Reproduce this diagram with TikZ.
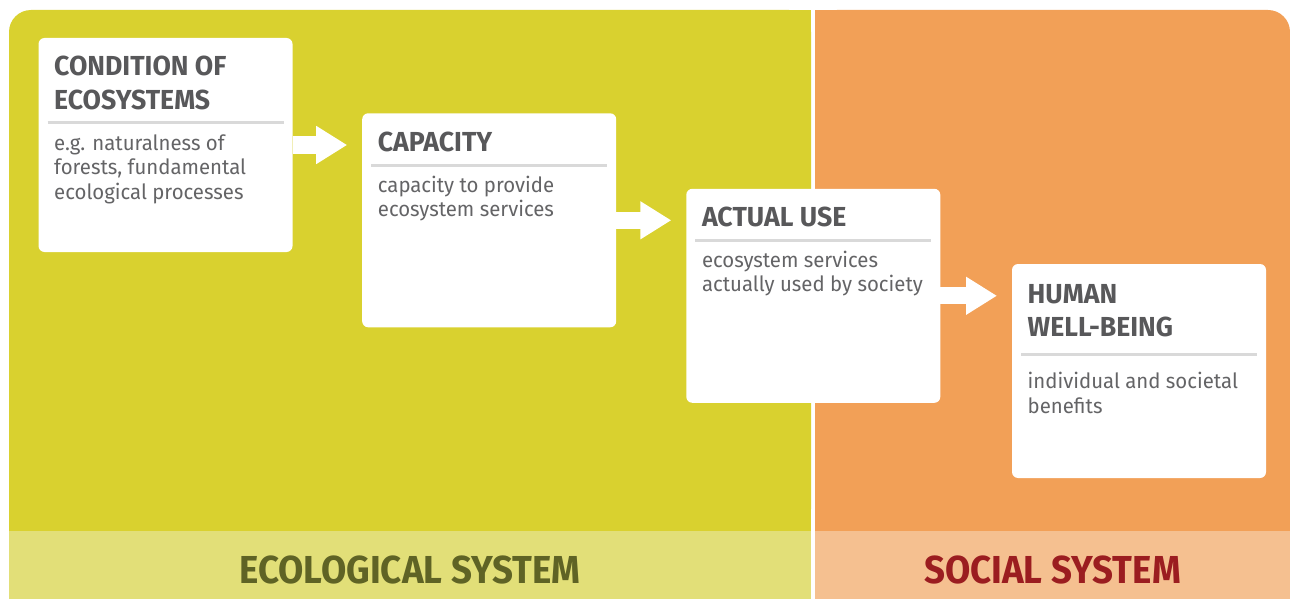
\documentclass[tikz,border=0pt]{standalone}
\usepackage{fontspec}
\setmainfont{Fira Sans}
\newfontfamily\hfont{Fira Sans}[FakeStretch=0.97]
\newfontfamily\lfont{Fira Sans}[FakeStretch=0.94]
\newfontfamily\bfont{Fira Sans}[FakeStretch=0.97]
\usetikzlibrary{arrows.meta,calc}
\definecolor{eco}{HTML}{D9D12F}
\definecolor{ecolight}{HTML}{E2DF78}
\definecolor{soc}{HTML}{F2A057}
\definecolor{soclight}{HTML}{F5C090}
\definecolor{hdrgray}{HTML}{58585A}
\definecolor{bodygray}{HTML}{646466}
\definecolor{sepgray}{HTML}{D9D9D9}
\definecolor{olive}{HTML}{5F6325}
\definecolor{darkred}{HTML}{9B1D20}
\begin{document}
\begin{tikzpicture}[x=1pt,y=-1pt,
  panel/.style={fill=white,rounded corners=6pt,minimum width=254pt,minimum height=214pt,inner sep=0pt,outer sep=0pt},
  hdr/.style={anchor=base west,inner sep=0pt,font=\hfont\bfseries\fontsize{27.5}{34}\selectfont,text=hdrgray},
  body/.style={anchor=base west,inner sep=0pt,font=\bfont\fontsize{21}{24.5}\selectfont,text=bodygray},
  sepline/.style={draw=sepgray,line width=3pt},
  flow/.style={draw=white,line width=17pt,-{Triangle[length=31pt,width=36pt]}},
  syslabel/.style={font=\lfont\bfseries\fontsize{39}{39}\selectfont,anchor=base,inner sep=0pt}]
\useasboundingbox (0,0) rectangle (1290,599);
% background panels
\fill[eco, rounded corners=22pt] (9,10) rectangle (811,531);
\fill[eco] (40,10) rectangle (811,531);
\fill[eco] (9,40) rectangle (811,531);
\fill[ecolight] (9,531) rectangle (811,599);
\fill[soc, rounded corners=22pt] (815,10) rectangle (1290,531);
\fill[soc] (815,10) rectangle (1260,531);
\fill[soc] (815,40) rectangle (1290,531);
\fill[soclight] (815,531) rectangle (1290,599);
% boxes
\node[panel] (b1) at (165.5,145) {};
\node[panel] (b2) at (489.2,220.3) {};
\node[panel] (b3) at (813.3,295.8) {};
\node[panel] (b4) at (1139,371) {};
% box 1
\node[hdr] (b1h1) at ([xshift=15.5pt,yshift=-38pt]b1.north west) {CONDITION OF};
\node[hdr] (b1h2) at ([xshift=15.5pt,yshift=-72pt]b1.north west) {ECOSYSTEMS};
\draw[sepline] ([xshift=9pt,yshift=-84.7pt]b1.north west) -- ([xshift=-9pt,yshift=-84.7pt]b1.north east);
\node[body] (b1t1) at ([xshift=15.5pt,yshift=-112pt]b1.north west) {e.g. naturalness of};
\node[body] (b1t2) at ([xshift=15.5pt,yshift=-136.5pt]b1.north west) {forests, fundamental};
\node[body] (b1t3) at ([xshift=15.5pt,yshift=-161pt]b1.north west) {ecological processes};
% box 2
\node[hdr] (b2h1) at ([xshift=15.5pt,yshift=-38.7pt]b2.north west) {CAPACITY};
\draw[sepline] ([xshift=9pt,yshift=-52.3pt]b2.north west) -- ([xshift=-9pt,yshift=-52.3pt]b2.north east);
\node[body] (b2t1) at ([xshift=15.5pt,yshift=-79pt]b2.north west) {capacity to provide};
\node[body] (b2t2) at ([xshift=15.5pt,yshift=-103pt]b2.north west) {ecosystem services};
% box 3
\node[hdr] (b3h1) at ([xshift=15.5pt,yshift=-37.7pt]b3.north west) {ACTUAL USE};
\draw[sepline] ([xshift=9pt,yshift=-51.3pt]b3.north west) -- ([xshift=-9pt,yshift=-51.3pt]b3.north east);
\node[body] (b3t1) at ([xshift=15.5pt,yshift=-78.3pt]b3.north west) {ecosystem services};
\node[body] (b3t2) at ([xshift=15.5pt,yshift=-102.7pt]b3.north west) {actually used by society};
% box 4
\node[hdr] (b4h1) at ([xshift=15.5pt,yshift=-39.3pt]b4.north west) {HUMAN};
\node[hdr] (b4h2) at ([xshift=15.5pt,yshift=-72pt]b4.north west) {WELL-BEING};
\draw[sepline] ([xshift=9pt,yshift=-90.3pt]b4.north west) -- ([xshift=-9pt,yshift=-90.3pt]b4.north east);
\node[body] (b4t1) at ([xshift=15.5pt,yshift=-124.3pt]b4.north west) {individual and societal};
\node[body] (b4t2) at ([xshift=15.5pt,yshift=-149pt]b4.north west) {benefits};
% arrows
\draw[flow] (b1.east) -- ($(b2.west |- b1.east)+(-15,0)$);
\draw[flow] (b2.east) -- ($(b3.west |- b2.east)+(-15,0)$);
\draw[flow] (b3.east) -- ($(b4.west |- b3.east)+(-15,0)$);
% system labels
\node[syslabel,text=olive] (eco) at (410,583) {ECOLOGICAL SYSTEM};
\node[syslabel,text=darkred] (soc) at (1052.5,583) {SOCIAL SYSTEM};
\end{tikzpicture}
\end{document}
